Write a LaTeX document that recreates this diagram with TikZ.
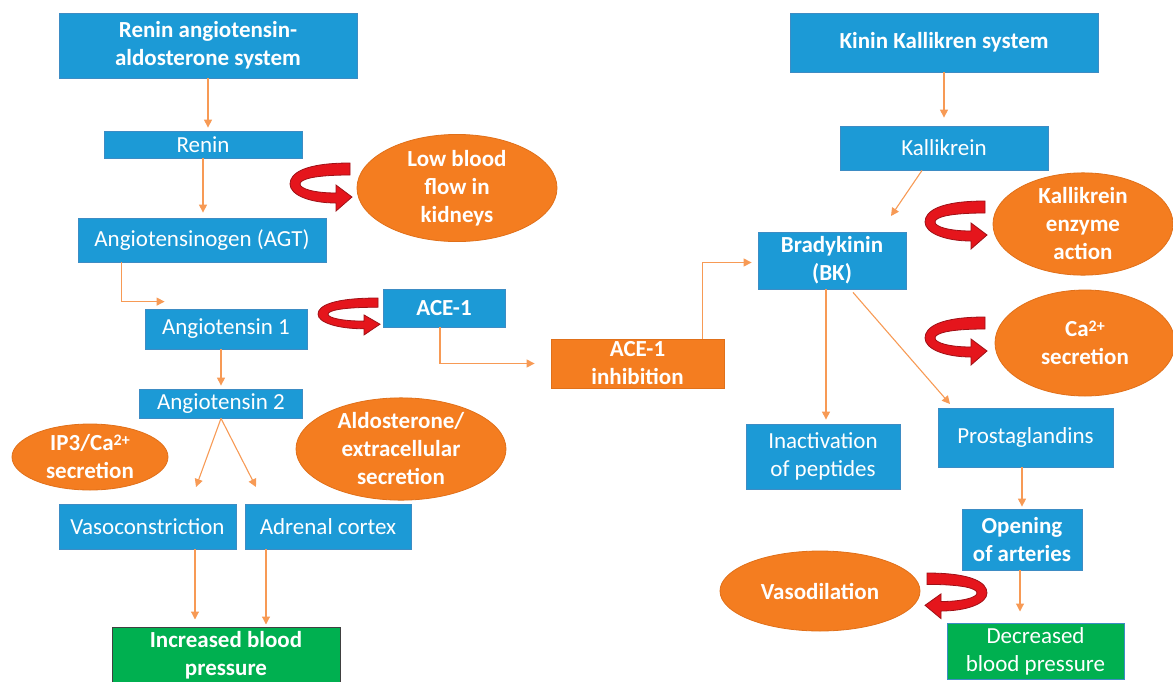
\documentclass[tikz,border=0pt]{standalone}
\usepackage{fontspec}
\setmainfont{Carlito}
\usepackage{tikz}
\usetikzlibrary{arrows.meta, positioning, calc, shapes.geometric}
\definecolor{cBOX}{HTML}{1C9AD6}
\definecolor{cBOXEDGE}{HTML}{3D8CC4}
\definecolor{cOVAL}{HTML}{F47D20}
\definecolor{cOVALEDGE}{HTML}{E0701A}
\definecolor{cBP}{HTML}{00B050}
\definecolor{cFLOW}{HTML}{F79A55}
\definecolor{cRIB}{HTML}{E5151C}
\definecolor{cRIBEDGE}{HTML}{9E1016}
\newcommand{\capow}{\raisebox{5pt}{\fontsize{16}{16}\selectfont 2+}}

\tikzset{
  txt/.style={font=\fontsize{23}{28}\selectfont, text=white, align=center, inner sep=0pt},
  bluebox/.style={txt, rectangle, fill=cBOX, draw=cBOXEDGE, line width=0.8pt},
  ovalnode/.style={txt, ellipse, fill=cOVAL, draw=cOVALEDGE, line width=0.8pt},
  bpbox/.style={txt, rectangle, fill=cBP, draw=black!75, line width=1pt},
  flow/.style={cFLOW, line width=1.1pt, -{Triangle[length=8pt, width=8pt]}},
  redturn/.pic={
    \draw[fill=cRIB, draw=cRIBEDGE, line width=0.8pt]
      (60,0) .. controls (15,0) and (0,10) .. (0,21)
      .. controls (0,32) and (20,40) .. (46,40) -- (46,48) -- (62,34)
      -- (46,22) -- (46,30) .. controls (25,30) and (10,26) .. (10,21)
      .. controls (10,16) and (25,12) .. (60,12) -- cycle;
  }
}

\begin{document}
\begin{tikzpicture}[x=1pt, y=-1pt]
  \useasboundingbox (0,0) rectangle (1173,681);

  % Renin angiotensin aldosterone side
  \node[bluebox, minimum width=298pt, minimum height=65pt, font=\fontsize{23}{28}\selectfont\bfseries]
    (ras) at (208,45.5) {Renin angiotensin-\\aldosterone system};
  \node[bluebox, minimum width=198pt, minimum height=27pt] (renin) at (203,144.5) {Renin};
  \node[bluebox, minimum width=248pt, minimum height=44pt] (agt) at (202,240) {Angiotensinogen (AGT)};
  \node[bluebox, minimum width=162pt, minimum height=40pt] (ang1) at (226,329) {Angiotensin 1};
  \node[bluebox, minimum width=122pt, minimum height=38pt, font=\fontsize{23}{28}\selectfont\bfseries]
    (ace) at (444,308) {ACE-1};
  \node[bluebox, minimum width=163pt, minimum height=29pt] (ang2) at (221,403.5) {Angiotensin 2};
  \node[bluebox, minimum width=177pt, minimum height=45pt] (vaso) at (147.5,526.5) {Vasoconstriction};
  \node[bluebox, minimum width=166pt, minimum height=45pt] (adrenal) at (328,526.5) {Adrenal cortex};
  \node[bpbox, minimum width=228pt, minimum height=56pt, font=\fontsize{23}{28}\selectfont\bfseries]
    (incbp) at (226,655) {Increased blood\\pressure};

  % Ovals, left
  \node[ovalnode, minimum width=200pt, minimum height=92pt, font=\fontsize{23}{28}\selectfont\bfseries]
    (lowflow) at (457,188) {Low blood\\flow in\\kidneys};
  \node[ovalnode, minimum width=156pt, minimum height=66pt, font=\fontsize{23}{28}\selectfont\bfseries]
    (ip3) at (90,457) {IP3/Ca\capow\\secretion};
  \node[ovalnode, minimum width=210pt, minimum height=100pt, font=\fontsize{23}{28}\selectfont\bfseries]
    (aldo) at (401,449) {Aldosterone/\\extracellular\\secretion};

  % Middle
  \node[rectangle, txt, fill=cOVAL, draw=cOVALEDGE, line width=0.8pt, minimum width=173pt, minimum height=49pt,
    font=\fontsize{23}{28}\selectfont\bfseries] (aceinh) at (637.5,363.5) {ACE-1\\inhibition};

  % Kinin kallikrein side
  \node[bluebox, minimum width=308pt, minimum height=59pt, font=\fontsize{23}{28}\selectfont\bfseries]
    (kks) at (944,42.5) {Kinin Kallikren system};
  \node[bluebox, minimum width=208pt, minimum height=44pt] (kall) at (944,148) {Kallikrein};
  \node[bluebox, minimum width=148pt, minimum height=57pt, font=\fontsize{23}{28}\selectfont\bfseries]
    (bk) at (832,260.5) {Bradykinin\\(BK)};
  \node[bluebox, minimum width=154pt, minimum height=65pt] (inact) at (823,456.5) {Inactivation\\of peptides};
  \node[bluebox, minimum width=175pt, minimum height=59pt] (prost) at (1025.5,437.5) {Prostaglandins};
  \node[bluebox, minimum width=120pt, minimum height=61pt, font=\fontsize{23}{28}\selectfont\bfseries]
    (open) at (1022,539.5) {Opening\\of arteries};
  \node[bpbox, draw=cBOXEDGE, minimum width=177pt, minimum height=56pt] (decbp) at (1035.5,651) {Decreased\\blood pressure};

  % Ovals, right
  \node[ovalnode, minimum width=180pt, minimum height=100pt, font=\fontsize{23}{28}\selectfont\bfseries]
    (kea) at (1083,224) {Kallikrein\\enzyme\\action};
  \node[ovalnode, minimum width=180pt, minimum height=106pt, font=\fontsize{23}{28}\selectfont\bfseries]
    (ca) at (1085,343) {Ca\capow\\secretion};
  \node[ovalnode, minimum width=200pt, minimum height=80pt, font=\fontsize{23}{28}\selectfont\bfseries]
    (vasodil) at (820,591) {Vasodilation};

  % Free arrow ends
  \coordinate (vasotip) at (196,487);
  \coordinate (adrtip) at (256,487);
  \coordinate (bktip) at (891,216);
  \coordinate (prosttip) at (950,404);

  % Arrows, left
  \draw[flow] (ras) -- ([yshift=3pt]ras |- renin.north);
  \draw[flow] (renin) -- ([yshift=5pt]renin |- agt.north);
  \draw[flow] ([xshift=44pt]agt.south west) |- ([xshift=20pt,yshift=7pt]ang1.north west);
  \draw[flow] (ang2.north |- ang1.south) -- ([yshift=3pt]ang2.north);
  \draw[flow] (ang2.south) -- (vasotip);
  \draw[flow] (ang2.south) -- (adrtip);
  \draw[flow] (195,0 |- vaso.south) -- ([yshift=7pt]195,0 |- incbp.north);
  \draw[flow] (266,0 |- adrenal.south) -- ([yshift=2pt]266,0 |- incbp.north);
  \draw[flow] ([xshift=-4pt]ace.south) |- ([xshift=-16pt]aceinh.west);
  \draw[flow] ([xshift=65pt]aceinh.north) |- ([xshift=-6pt,yshift=-2pt]bk.west);

  % Arrows, right
  \draw[flow] (kks) -- ([yshift=8pt]kks |- kall.north);
  \draw[flow] ([xshift=-22pt]kall.south) -- (bktip);
  \draw[flow] (826,0 |- bk.south) -- ([yshift=4pt]826,0 |- inact.north);
  \draw[flow] ([xshift=21pt,yshift=-3pt]bk.south) -- (prosttip);
  \draw[flow] (prost.south -| open.north) -- ([yshift=2pt]open.north);
  \draw[flow] ([xshift=-2pt]open.south) -- ([xshift=-2pt,yshift=11pt]open.south |- decbp.north);

  % Red turn arrows
  \pic at (290,163) {redturn};
  \pic[yscale=0.77] at (318,298) {redturn};
  \pic at (925,201) {redturn};
  \pic at (925,317) {redturn};
  \pic[xscale=-1, yscale=0.95] at (987,573) {redturn};
\end{tikzpicture}
\end{document}
